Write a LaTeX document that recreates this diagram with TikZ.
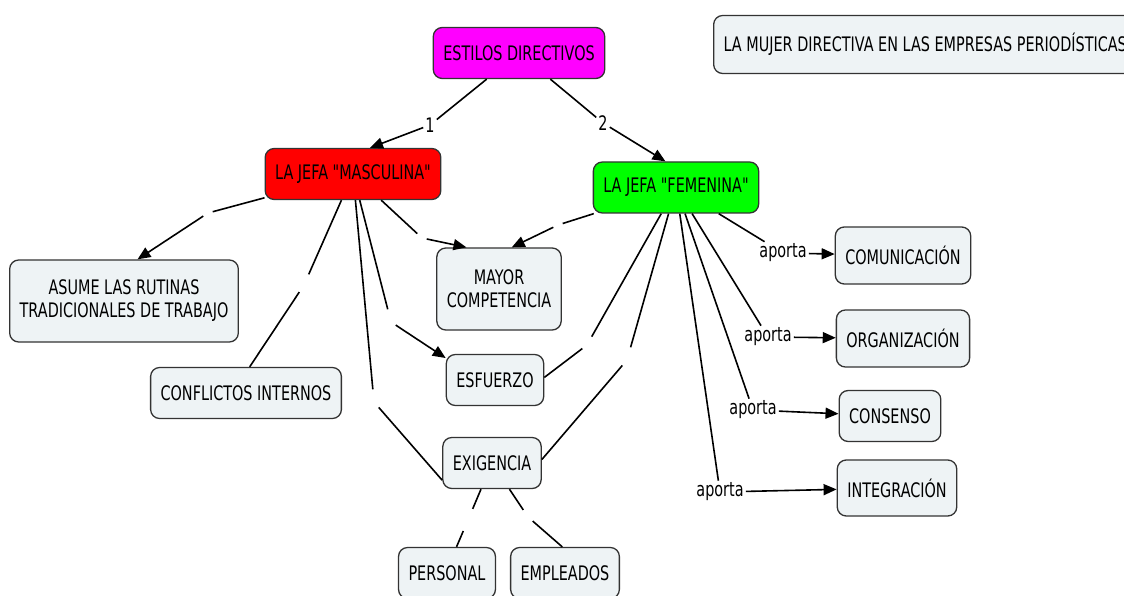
\documentclass[tikz,border=0pt]{standalone}
\usepackage{fontspec}
\setmainfont[FakeStretch=0.72, Ligatures=TeXOff]{DejaVu Sans}
\usetikzlibrary{arrows.meta}

\definecolor{boxfill}{HTML}{EEF3F5}
\definecolor{boxline}{HTML}{333333}
\definecolor{mainpink}{HTML}{FF00FF}
\definecolor{mascred}{HTML}{FF0000}
\definecolor{femgreen}{HTML}{00FF00}

\tikzset{
  concept/.style={draw=boxline, line width=1.3pt, rounded corners=9pt, fill=boxfill,
    inner xsep=10pt, minimum height=51pt, align=center},
  twoline/.style={concept, minimum height=82pt},
  gap/.style={inner sep=0pt, minimum width=9pt, minimum height=25pt},
  phrase/.style={inner sep=2pt},
  link/.style={line width=1.6pt},
  linkarrow/.style={link, -{Triangle[length=13pt,width=11pt]}}
}

\begin{document}
\begin{tikzpicture}[x=1pt, y=-1pt, font=\fontsize{20}{23}\selectfont]
          \useasboundingbox (0,0) rectangle (1124,596);
          \clip (0,0) rectangle (1124,596);

          \node [concept, fill=mainpink] (estilos) at (519,53) {ESTILOS DIRECTIVOS}; % top concept
          \node [concept, anchor=west, minimum height=58pt] (mujer) at (713,44.5) {LA MUJER DIRECTIVA EN LAS EMPRESAS PERIODÍSTICAS};

          \node [concept, fill=mascred] (masc) at (353,174) {LA JEFA "MASCULINA"};
          \node [concept, fill=femgreen] (fem) at (676,187.5) {LA JEFA "FEMENINA"};

          \node [twoline] (asume) at (124,301) {ASUME LAS RUTINAS\\TRADICIONALES DE TRABAJO};
          \node [twoline] (mayor) at (499,289) {MAYOR\\COMPETENCIA};
          \node [concept] (conflictos) at (246,393) {CONFLICTOS INTERNOS};
          \node [concept] (esfuerzo) at (495,380) {ESFUERZO};
          \node [concept] (exigencia) at (492,463) {EXIGENCIA};
          \node [concept] (personal) at (447,573) {PERSONAL};
          \node [concept] (empleados) at (565,573) {EMPLEADOS};

          \node [concept, minimum height=57pt] (comunicacion) at (903,255.5) {COMUNICACIÓN};
          \node [concept, minimum height=57pt] (organizacion) at (903,338.5) {ORGANIZACIÓN};
          \node [concept] (consenso) at (890,416) {CONSENSO};
          \node [concept, minimum height=56pt] (integracion) at (897,488) {INTEGRACIÓN};

          % empty linking phrases
          \node [gap] (g-asume) at (208,213) {};
          \node [gap] (g-conf) at (304,285) {};
          \node [gap] (g-exig) at (374,402) {};
          \node [gap] (g-esf) at (391,322) {};
          \node [gap] (g-mayor) at (422,238) {};
          \node [gap] (gf-mayor) at (558,225) {};
          \node [gap] (gf-esf) at (587,345) {};
          \node [gap] (gf-exig) at (627,360) {};
          \node [gap] (g-pers) at (468,520) {};
          \node [gap] (g-empl) at (528,517) {};

          \node [phrase] (n1) at (430,125) {1};
          \node [phrase] (n2) at (603,123) {2};
          \node [phrase] (a-com) at (783,253) {aporta};
          \node [phrase] (a-org) at (768,337) {aporta};
          \node [phrase] (a-con) at (753,410) {aporta};
          \node [phrase] (a-int) at (720,492) {aporta};

          \draw [link] (estilos) -- (n1);
          \draw [linkarrow] (n1) -- (masc.57);
          \draw [link] (estilos) -- (n2);
          \draw [linkarrow] (n2) -- (fem.112);

          \draw [link] (masc) -- (g-asume);
          \draw [linkarrow] (g-asume) -- (asume.72);
          \draw [link] (masc) -- (g-conf);
          \draw [link] (g-conf) -- (conflictos.82);
          \draw [link] (masc) -- (g-exig);
          \draw [link] (g-exig) -- (exigencia.-161);
          \draw [link] (masc) -- (g-esf);
          \draw [linkarrow] (g-esf) -- (esfuerzo.156);
          \draw [link] (masc) -- (g-mayor);
          \draw [linkarrow] (g-mayor) -- (mayor.128);

          \draw [link] (fem) -- (gf-mayor);
          \draw [linkarrow] (gf-mayor) -- (mayor.73);
          \draw [link] (fem) -- (gf-esf);
          \draw [link] (gf-esf) -- (esfuerzo.3);
          \draw [link] (fem) -- (gf-exig);
          \draw [link] (gf-exig) -- (exigencia.4);

          \draw [link] (fem) -- (a-com);
          \draw [linkarrow] (a-com) -- (comunicacion);
          \draw [link] (fem) -- (a-org);
          \draw [linkarrow] (a-org) -- (organizacion);
          \draw [link] (fem) -- (a-con);
          \draw [linkarrow] (a-con) -- (consenso);
          \draw [link] (fem) -- (a-int);
          \draw [linkarrow] (a-int) -- (integracion);

          \draw [link] (exigencia) -- (g-pers);
          \draw [link] (g-pers) -- (personal.70);
          \draw [link] (exigencia) -- (g-empl);
          \draw [link] (g-empl) -- (empleados.96);
        \end{tikzpicture}
\end{document}
